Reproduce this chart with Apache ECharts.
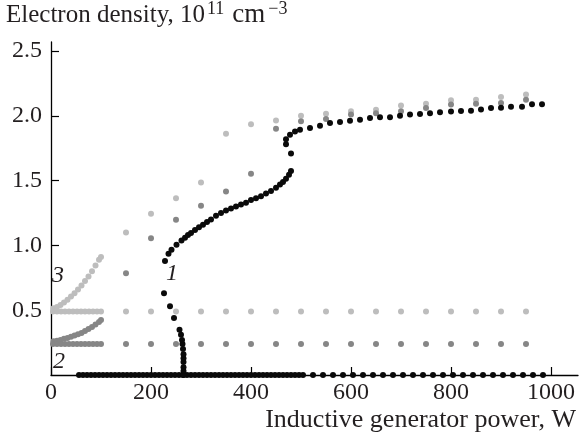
<!DOCTYPE html>
<html>
<head>
<meta charset="utf-8">
<script src="https://cdn.jsdelivr.net/npm/echarts@6/dist/echarts.min.js"></script>
<style>
html,body{margin:0;padding:0;background:#fff;}
#chart{width:579px;height:438px;}
</style>
</head>
<body>
<div id="chart"></div>
<script>
// ---- Data (power in W, electron density in 1e11 cm^-3) ----
// Curve 1 (black): zero branch
const zeroPower = [56,64,72,80,88,96,104,112,120,128,136,144,152,160,168,176,184,192,200,208,216,224,232,240,248,256,264,272,280,288,296,304,312,320,328,336,344,352,360,368,376,384,392,400,408,416,424,432,440,448,456,464,472,480,488,496,504,524,544,564,584,604,624,644,664,684,704,724,744,764,784,804,824,844,864,884,904,924,944,964,984];
const zeroDensity = [0,0,0,0,0,0,0,0,0,0,0,0,0,0,0,0,0,0,0,0,0,0,0,0,0,0,0,0,0,0,0,0,0,0,0,0,0,0,0,0,0,0,0,0,0,0,0,0,0,0,0,0,0,0,0,0,0,0,0,0,0,0,0,0,0,0,0,0,0,0,0,0,0,0,0,0,0,0,0,0,0];
// Curve 1 (black): turning, lower, jump and upper branches
const blackPower = [265,265,265,265,265,265,264,263,262,260,257,246,238,226,228,235,241,251,261,268,274,280,288,296,304,312,320,330,340,350,360,370,380,390,400,410,420,430,440,450,458,464,470,476,480,480,470,470,478,488,498,518,538,558,578,598,618,638,658,678,698,718,738,758,778,800,820,840,860,880,900,920,942,962,982];
const blackDensity = [0.0,0.03,0.06,0.10,0.13,0.16,0.20,0.24,0.27,0.31,0.35,0.44,0.53,0.63,0.88,0.935,0.966,1.005,1.038,1.06,1.08,1.095,1.12,1.14,1.16,1.18,1.20,1.23,1.25,1.27,1.285,1.30,1.315,1.33,1.35,1.365,1.38,1.40,1.42,1.445,1.47,1.49,1.515,1.545,1.575,1.71,1.78,1.82,1.855,1.88,1.893,1.906,1.924,1.945,1.953,1.963,1.97,1.984,1.99,1.99,2.0,2.01,2.015,2.02,2.027,2.033,2.037,2.04,2.05,2.06,2.063,2.07,2.07,2.09,2.09];
// Curve 2 (medium gray)
const c2Power = [5,12,19,26,33,40,47,54,61,68,75,82,89,96,100, 4,12,20,28,36,44,52,60,68,76,84,92,100, 150,200,250,300,350,400,450,500,550,600,650,700,750,800,850,900,950, 150,200,250,300,350,400,450,500,550,600,650,700,750,800,850,900,950];
const c2Density = [0.26,0.265,0.27,0.28,0.285,0.295,0.305,0.315,0.325,0.34,0.355,0.37,0.39,0.41,0.425, 0.24,0.24,0.24,0.24,0.24,0.24,0.24,0.24,0.24,0.24,0.24,0.24,0.24, 0.24,0.24,0.24,0.24,0.24,0.24,0.24,0.24,0.24,0.24,0.24,0.24,0.24,0.24,0.24,0.24,0.24, 0.786,1.056,1.198,1.306,1.417,1.553,1.90,1.958,1.976,2.01,2.02,2.035,2.06,2.087,2.094,2.10,2.125];
// Curve 3 (light gray)
const c3Power = [5,12,19,26,33,40,47,54,61,68,75,82,89,96,100, 4,12,20,28,36,44,52,60,68,76,84,92,100, 150,200,250,300,350,400,450,500,550,600,650,700,750,800,850,900,950, 150,200,250,300,350,400,450,500,550,600,650,700,750,800,850,900,950];
const c3Density = [0.515,0.525,0.54,0.56,0.58,0.605,0.63,0.66,0.69,0.725,0.76,0.80,0.845,0.89,0.91, 0.49,0.49,0.49,0.49,0.49,0.49,0.49,0.49,0.49,0.49,0.49,0.49,0.49, 0.49,0.49,0.49,0.49,0.49,0.49,0.49,0.49,0.49,0.49,0.49,0.49,0.49,0.49,0.49,0.49,0.49, 1.10,1.244,1.365,1.486,1.862,1.935,1.965,2.0,2.017,2.035,2.048,2.08,2.094,2.12,2.125,2.146,2.164];
// Tick labels
const xTicks = [0,200,400,600,800,1000];
const yTicks = [0.5,1.0,1.5,2.0,2.5];

const zip = (a,b) => a.map((v,i)=>[v,b[i]]);
const FONT = '"Liberation Serif", "DejaVu Serif", serif';
const TXT = '#231f20';

const chart = echarts.init(document.getElementById('chart'), null, {renderer:'canvas'});
chart.setOption({
  animation:false,
  backgroundColor:'#fff',
  title:[
    {text:'{a|Electron density, 10}{sup|11}{b|cm}{sup|−3}', left:6, top:0, padding:0,
     textStyle:{fontWeight:'normal',rich:{
       a:{fontFamily:FONT,fontSize:25,fontWeight:'normal',color:TXT,lineHeight:28,verticalAlign:'bottom'},
       b:{fontFamily:FONT,fontSize:27,fontWeight:'normal',color:TXT,lineHeight:28,verticalAlign:'bottom',padding:[0,1,0,8]},
       sup:{fontFamily:FONT,fontSize:18,fontWeight:'normal',color:TXT,lineHeight:16,verticalAlign:'top',padding:[0,0,0,2]}
     }}},
    {text:'Inductive generator power, W', right:3, top:406, padding:0,
     textStyle:{fontFamily:FONT,fontSize:26,fontWeight:'normal',color:TXT,lineHeight:28}}
  ],
  grid:{left:51,right:1,top:42,bottom:63,containLabel:false},
  xAxis:{
    type:'value',min:0,max:1054,
    axisLine:{show:true,onZero:false,lineStyle:{color:'#000',width:1.3}},
    axisTick:{show:true,inside:true,length:8,lineStyle:{color:'#000',width:1.2},customValues:xTicks},
    axisLabel:{fontFamily:FONT,fontSize:24,color:TXT,margin:6,customValues:xTicks,formatter:v=>String(v)},
    splitLine:{show:false}
  },
  yAxis:{
    type:'value',min:0,max:2.57,
    axisLine:{show:true,onZero:false,lineStyle:{color:'#000',width:1.3}},
    axisTick:{show:true,inside:true,length:8,lineStyle:{color:'#000',width:1.2},customValues:yTicks},
    axisLabel:{fontFamily:FONT,fontSize:24,color:TXT,margin:9,customValues:yTicks,formatter:v=>v.toFixed(1)},
    splitLine:{show:false}
  },
  series:[
    {type:'scatter',name:'3',data:zip(c3Power,c3Density),symbolSize:6,itemStyle:{color:'#bdbdbd',opacity:1},z:2},
    {type:'scatter',name:'2',data:zip(c2Power,c2Density),symbolSize:6,itemStyle:{color:'#868686',opacity:1},z:3},
    {type:'scatter',name:'1a',data:zip(zeroPower,zeroDensity),symbolSize:6,itemStyle:{color:'#0a0a0a',opacity:1},z:4},
    {type:'scatter',name:'1',data:zip(blackPower,blackDensity),symbolSize:6,itemStyle:{color:'#0a0a0a',opacity:1},z:4}
  ],
  graphic:[
    {type:'text',left:52,top:264,style:{text:'3',font:'italic 24px "Liberation Serif"',fill:TXT}},
    {type:'text',left:53,top:350,style:{text:'2',font:'italic 24px "Liberation Serif"',fill:TXT}},
    {type:'text',left:166,top:262,style:{text:'1',font:'italic 24px "Liberation Serif"',fill:TXT}}
  ]
});
</script>
</body>
</html>
